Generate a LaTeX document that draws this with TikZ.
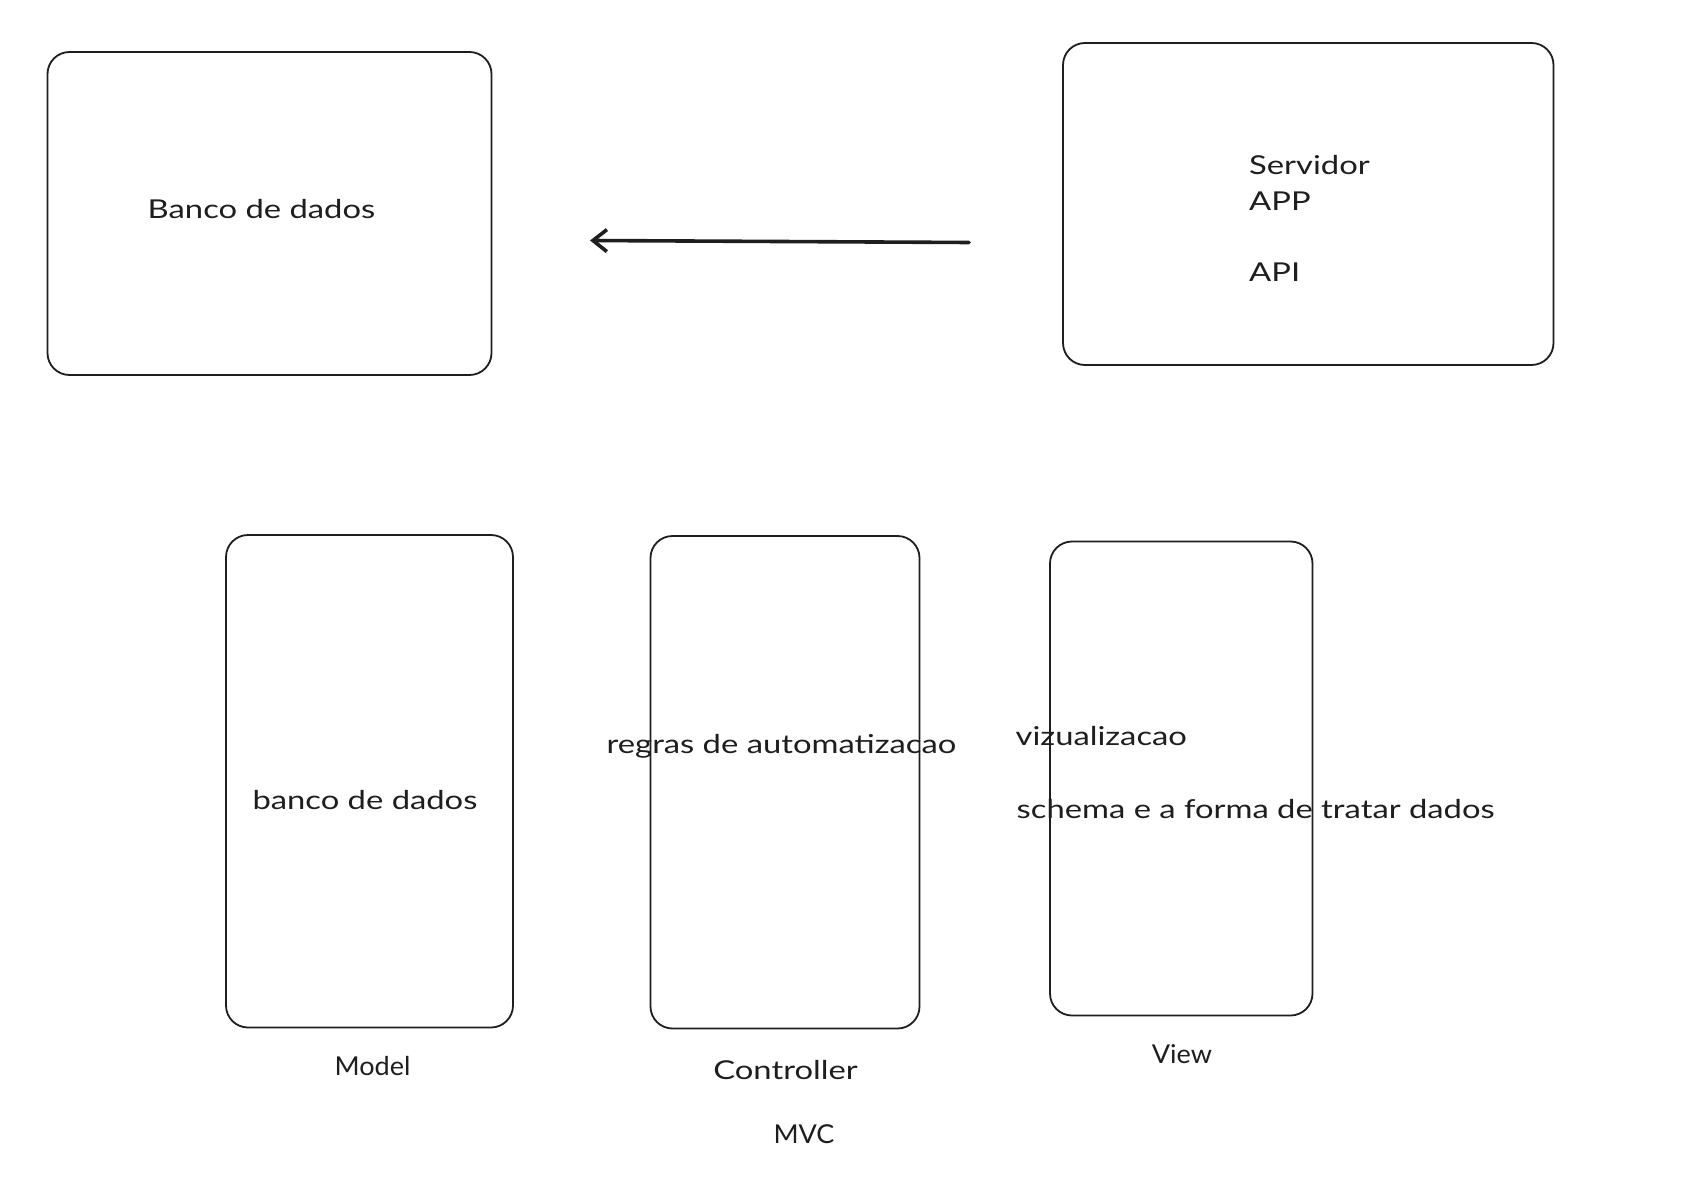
\documentclass[tikz,border=0pt]{standalone}
\usepackage{fontspec}
\setmainfont{Lato}[FakeStretch=1.26]
\newfontfamily\capsfont{Lato}[FakeStretch=1.04]
\usetikzlibrary{arrows.meta}
\definecolor{ink}{HTML}{1E1E1E}
\tikzset{
  box/.style={draw=ink, line width=1.8pt, rounded corners=22pt},
  lbl/.style={inner sep=0pt, text=ink, font=\fontsize{26}{30}\selectfont},
  caplbl/.style={lbl, font=\capsfont\fontsize{26}{30}\selectfont},
  conn/.style={draw=ink, line width=3.6pt, line cap=round, -{Straight Barb[length=14pt,width=22pt,line width=3.6pt]}}
}
\begin{document}
\begin{tikzpicture}[x=1pt,y=-1pt]
\useasboundingbox (0,0) rectangle (1694,1190);
\fill[white] (0,0) rectangle (1694,1190);
% top boxes
\draw[box] (47.5,52) rectangle (491.5,375);
\draw[box] (1063,43) rectangle (1553.5,365);
\node[lbl, anchor=base] (dbtxt) at (261.5,219) {Banco de dados};
\node[lbl, anchor=base west] (serv) at (1249,175) {Servidor};
\node[lbl, anchor=base west] (app) at (1249,211) {APP};
\node[lbl, anchor=base west] (api) at (1249,281.5) {API};
% arrow
\coordinate (astart) at (969,242.5);
\coordinate (aend) at (590,240.5);
\draw[conn] (astart) -- (aend);
% MVC boxes
\draw[box] (226,535) rectangle (513,1027.5);
\draw[box] (650.5,536) rectangle (919.5,1028.5);
\draw[box] (1050,541.5) rectangle (1312.5,1015.5);
\node[lbl, anchor=base] (mtxt) at (365,809) {banco de dados};
\node[lbl, anchor=base] (ctxt) at (781.5,753) {regras de automatizacao};
\node[lbl, anchor=base west] (vtxt) at (1015.5,745) {vizualizacao};
\node[lbl, anchor=base west] (stxt) at (1016.5,818) {schema e a forma de tratar dados};
\node[caplbl, anchor=base] (model) at (372.5,1075) {Model};
\node[lbl, anchor=base] (controller) at (785.5,1079) {Controller};
\node[caplbl, anchor=base] (view) at (1182,1063) {View};
\node[caplbl, anchor=base] (mvc) at (804,1143) {MVC};
\end{tikzpicture}
\end{document}
